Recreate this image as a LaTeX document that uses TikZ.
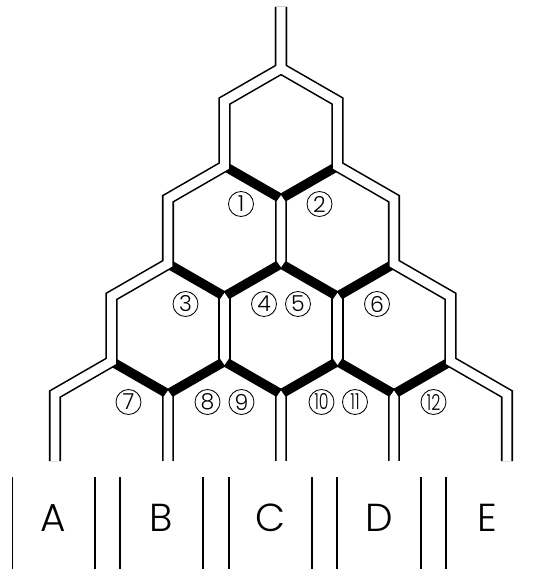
\documentclass[tikz,border=0pt]{standalone}
\usepackage{fontspec}
\newfontfamily\lightfont{Poppins Light}
\newcommand{\wpipe}[2]{\fill[white] ([shift={(-4.45,2.9)}]#1) -- ([shift={(0,-3.5)}]#1) -- ([shift={(4.45,2.9)}]#1) -- ([shift={(4.45,-2.9)}]#2) -- ([shift={(0,3.5)}]#2) -- ([shift={(-4.45,-2.9)}]#2) -- cycle;}
\newcommand{\wpipeend}[2]{\fill[white] ([shift={(-4.45,2.9)}]#1) -- ([shift={(0,-3.5)}]#1) -- ([shift={(4.45,2.9)}]#1) -- ([shift={(4.45,0)}]#2) -- ([shift={(-4.45,0)}]#2) -- cycle;}
\begin{document}
\begin{tikzpicture}[x=1pt,y=-1pt,
  pipeo/.style={line width=12.1pt, line join=miter, black},
  pipei/.style={line width=8.9pt, line join=miter, white},
  band/.style={line width=9.5pt, line join=miter, black},
  num/.style={circle, draw, line width=0.85pt, minimum size=25pt, inner sep=0pt, font=\lightfont\fontsize{22}{22}\selectfont},
  boxline/.style={line width=1.5pt},
  letter/.style={anchor=base, inner sep=0pt, font=\lightfont\fontsize{39}{39}\selectfont}]
\useasboundingbox (0,0) rectangle (544,569);
% vertices
\coordinate (T0) at (281,7);
\coordinate (A) at (281,68.5);
\coordinate (L1a) at (224.5,101.05);
\coordinate (L1b) at (224.5,166.15);
\coordinate (L2a) at (168,198.7);
\coordinate (L2b) at (168,263.8);
\coordinate (L3a) at (111.5,296.35);
\coordinate (L3b) at (111.5,361.45);
\coordinate (L4a) at (55,394);
\coordinate (L4b) at (55,461);
\coordinate (R1a) at (337.5,101.05);
\coordinate (R1b) at (337.5,166.15);
\coordinate (R2a) at (394,198.7);
\coordinate (R2b) at (394,263.8);
\coordinate (R3a) at (450.5,296.35);
\coordinate (R3b) at (450.5,361.45);
\coordinate (R4a) at (507,394);
\coordinate (R4b) at (507,461);
\coordinate (V1) at (281,198.7);
\coordinate (M1) at (281,263.8);
\coordinate (V2l) at (224.5,296.35);
\coordinate (V2r) at (337.5,296.35);
\coordinate (M2l) at (224.5,361.45);
\coordinate (M2r) at (337.5,361.45);
\coordinate (V3a) at (168,394);
\coordinate (V3b) at (281,394);
\coordinate (V3c) at (394,394);
\coordinate (E3a) at (168,461);
\coordinate (E3b) at (281,461);
\coordinate (E3c) at (394,461);
% black pipe walls
\draw[pipeo] (T0) -- (A) -- (L1a) -- (L1b) -- (L2a) -- (L2b) -- (L3a) -- (L3b) -- (L4a) -- (L4b);
\draw[pipeo] (T0) -- (A) -- (R1a) -- (R1b) -- (R2a) -- (R2b) -- (R3a) -- (R3b) -- (R4a) -- (R4b);
\draw[pipeo] (V1) -- (M1);
\draw[pipeo] (V2l) -- (M2l);
\draw[pipeo] (V2r) -- (M2r);
\draw[pipeo] (V3a) -- (E3a);
\draw[pipeo] (V3b) -- (E3b);
\draw[pipeo] (V3c) -- (E3c);
% thick bands
\draw[band] (L1b) -- (V1) -- (R1b);
\draw[band] (L2b) -- (V2l) -- (M1) -- (V2r) -- (R2b);
\draw[band] (L3b) -- (V3a) -- (M2l) -- (V3b) -- (M2r) -- (V3c) -- (R3b);
% white pipe interiors
\draw[pipei] (T0) -- (A) -- (L1a) -- (L1b) -- (L2a) -- (L2b) -- (L3a) -- (L3b) -- (L4a) -- (L4b);
\draw[pipei] (T0) -- (A) -- (R1a) -- (R1b) -- (R2a) -- (R2b) -- (R3a) -- (R3b) -- (R4a) -- (R4b);
\wpipe{V1}{M1}
\wpipe{V2l}{M2l}
\wpipe{V2r}{M2r}
\wpipeend{V3a}{E3a}
\wpipeend{V3b}{E3b}
\wpipeend{V3c}{E3c}
% numbered circles
\node[num] (n1) at (241,204) {1};
\node[num] (n2) at (319.5,204) {2};
\node[num] (n3) at (185.5,304) {3};
\node[num] (n4) at (264,304) {4};
\node[num] (n5) at (298,304) {5};
\node[num] (n6) at (377,304) {6};
\node[num] (n7) at (128.5,402) {7};
\node[num] (n8) at (207.5,402) {8};
\node[num] (n9) at (241.5,402) {9};
\node[num] (n10) at (321.5,402) {\scalebox{0.72}[1]{10}};
\node[num] (n11) at (355,402) {\scalebox{0.72}[1]{11}};
\node[num] (n12) at (433.5,402) {\scalebox{0.72}[1]{12}};
% bottom boxes
\coordinate (b1t) at (12.3,477); \coordinate (b1b) at (12.3,569);
\coordinate (b2t) at (95,477); \coordinate (b2b) at (95,569);
\coordinate (b3t) at (120,477); \coordinate (b3b) at (120,569);
\coordinate (b4t) at (203,477); \coordinate (b4b) at (203,569);
\coordinate (b5t) at (229,477); \coordinate (b5b) at (229,569);
\coordinate (b6t) at (312,477); \coordinate (b6b) at (312,569);
\coordinate (b7t) at (337,477); \coordinate (b7b) at (337,569);
\coordinate (b8t) at (421,477); \coordinate (b8b) at (421,569);
\coordinate (b9t) at (446,477); \coordinate (b9b) at (446,569);
\foreach \i in {1,...,9} { \draw[boxline] (b\i t) -- (b\i b); }
\node[letter] (la) at (53.5,531.8) {A};
\node[letter] (lb) at (161.5,531.8) {B};
\node[letter] (lc) at (270.5,531.8) {C};
\node[letter] (ld) at (379,531.8) {D};
\node[letter] (le) at (487,531.8) {E};
\end{tikzpicture}
\end{document}
